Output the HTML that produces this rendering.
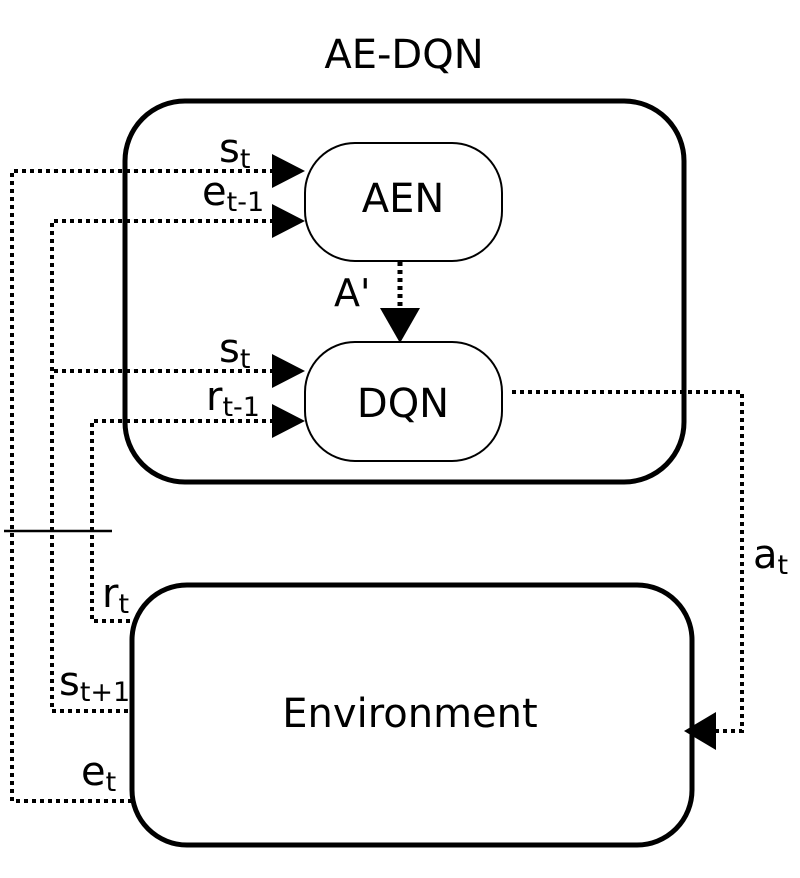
<!DOCTYPE html>
<html><head><meta charset="utf-8"><style>html,body{margin:0;padding:0;background:#fff}</style></head>
<body>
<svg width="800" height="873" viewBox="0 0 800 873" xmlns="http://www.w3.org/2000/svg" font-family="DejaVu Sans, Liberation Sans, sans-serif">
<rect width="800" height="873" fill="#fff"/>
<text x="404" y="68" font-size="40" text-anchor="middle">AE-DQN</text>
<rect x="125" y="101" width="559" height="381" rx="60" ry="60" fill="none" stroke="#000" stroke-width="5"/>
<rect x="132" y="585" width="560" height="260" rx="55" ry="55" fill="none" stroke="#000" stroke-width="5"/>
<rect x="305" y="143" width="197" height="118" rx="50" ry="50" fill="#fff" stroke="#000" stroke-width="2"/>
<rect x="305" y="342" width="197" height="119" rx="50" ry="50" fill="#fff" stroke="#000" stroke-width="2"/>
<text x="403" y="212" font-size="40" text-anchor="middle">AEN</text>
<text x="403" y="417" font-size="40" text-anchor="middle">DQN</text>
<text x="410" y="727" font-size="40" text-anchor="middle">Environment</text>
<g fill="none" stroke="#000" stroke-width="4" stroke-dasharray="4,4">
<path d="M274 171 H12 V801 H134"/>
<path d="M274 221 H52 V711 H132"/>
<path d="M274 371 H52"/>
<path d="M274 421 H92 V621 H136"/>
<path d="M512 392 H742 V731 H716"/>
</g>
<path d="M400 262 V308" stroke="#000" stroke-width="5" stroke-dasharray="4,4" fill="none"/>
<line x1="4" y1="531" x2="112" y2="531" stroke="#000" stroke-width="2.5"/>
<g fill="#000">
<polygon points="272,154 305,171 272,188"/>
<polygon points="272,204 305,221 272,238"/>
<polygon points="272,354 305,371 272,388"/>
<polygon points="272,404 305,421 272,438"/>
<polygon points="380,308 420,308 400,343"/>
<polygon points="716,712 684,731 716,750"/>
</g>
<g font-size="40">
<text x="219" y="162">s<tspan font-size="27" dy="6">t</tspan></text>
<text x="202" y="205">e<tspan font-size="27" dy="6">t-1</tspan></text>
<text x="219" y="362">s<tspan font-size="27" dy="6">t</tspan></text>
<text x="206" y="410">r<tspan font-size="27" dy="6">t-1</tspan></text>
<text x="102" y="607">r<tspan font-size="27" dy="6">t</tspan></text>
<text x="59" y="695">s<tspan font-size="27" dy="6">t+1</tspan></text>
<text x="81" y="785">e<tspan font-size="27" dy="6">t</tspan></text>
<text x="753" y="568">a<tspan font-size="27" dy="6">t</tspan></text>
<text x="334" y="306" font-size="38">A'</text>
</g>
</svg>
</body></html>
